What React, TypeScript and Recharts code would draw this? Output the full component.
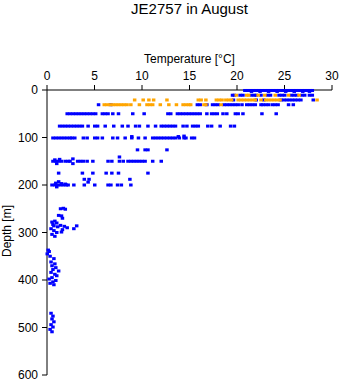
import React from 'react'
import { ScatterChart, Scatter, XAxis, YAxis } from 'recharts'

// temperature ticks and depth ticks
const tempTicks = [0, 5, 10, 15, 20, 25, 30]
const depthTicks = [0, 100, 200, 300, 400, 500, 600]

// rows of casts sampled at (roughly) the same depth: temperatures in °C
const blue1m = [20.8, 21.1, 21.4, 21.7, 22.0, 22.3, 22.6, 22.9, 23.2, 23.5, 23.8, 24.1, 24.4, 24.7, 25.0, 25.3, 25.6, 25.9, 26.2, 26.5, 26.8, 27.1, 27.4, 27.7, 27.9]
const blue3m = [21.5, 22.4, 23.3, 24.2, 25.1, 26.0, 26.9, 27.6]
const blue11m = [19.5, 19.7, 20.3, 20.6, 21.5, 21.8, 22.0, 22.5, 23.2, 23.5, 24.4, 24.7, 25.0, 25.7, 26.0, 26.3, 26.8, 27.1, 27.6, 27.9]
const orange11m = [19.9, 21.0, 21.2, 22.2, 22.9, 24.0, 25.4, 26.5]
const orange21m = [9.2, 10.1, 10.7, 11.2, 12.6, 15.9, 16.2, 16.7, 17.8, 18.1, 18.4, 18.8, 19.1, 19.4, 20.1, 20.4, 20.7, 21.0, 21.3, 21.6, 21.9, 22.5, 23.0, 23.3, 23.6, 23.9, 24.2, 24.5, 28.4]
const blue21m = [19.6, 22.0, 22.8, 24.6, 24.9, 25.2, 25.5, 25.8, 26.1, 26.4, 26.7, 28.0]
const orange31m = [6.0, 6.3, 6.6, 6.9, 7.2, 7.5, 7.8, 8.1, 8.4, 8.8, 9.7, 10.5, 10.8, 11.1, 11.9, 12.8, 13.6, 14.3, 14.6, 14.9, 15.1, 16.5, 16.7, 18.3]
const blue31m = [5.4, 6.7, 15.8, 16.1, 16.8, 17.4, 17.7, 18.0, 18.6, 18.9, 19.2, 19.5, 19.8, 20.1, 20.5, 21.0, 21.3, 21.6, 21.9, 22.5, 22.7, 23.0, 23.3, 23.7, 24.0, 24.3, 25.4, 25.9]
const blue50m = [2.1, 2.4, 2.7, 3.0, 3.3, 3.6, 3.9, 4.2, 4.5, 4.8, 5.1, 5.8, 6.1, 6.4, 6.9, 7.5, 9.0, 10.2, 12.7, 13.0, 13.7, 14.0, 14.3, 14.6, 14.9, 15.2, 15.5, 15.8, 16.1, 16.8, 17.3, 17.6, 17.9, 18.5, 18.9, 19.8, 20.1, 20.6, 22.6, 24.1]
const blue76m = [1.3, 1.6, 1.9, 2.2, 2.5, 2.8, 3.1, 3.4, 3.7, 4.3, 5.0, 5.3, 6.1, 7.0, 7.9, 8.5, 9.3, 9.7, 10.6, 11.4, 12.0, 12.3, 12.6, 12.9, 13.2, 13.5, 14.3, 14.7, 15.3, 15.6, 15.9, 16.9, 17.3, 18.2, 19.3, 19.7]
const blue101m = [0.6, 0.9, 1.2, 1.5, 1.8, 2.1, 2.4, 2.6, 2.9, 3.8, 4.2, 5.0, 5.3, 5.8, 6.9, 7.4, 8.2, 8.9, 9.6, 10.3, 11.1, 11.4, 11.7, 12.0, 12.3, 12.6, 12.9, 13.2, 13.5, 13.9, 14.4, 14.6, 15.2, 15.5]
const blue126m = [9.5, 10.3, 10.6, 12.6]
const blue150m = [0.6, 0.9, 1.2, 1.5, 1.9, 2.2, 2.4, 3.2, 3.5, 3.8, 4.2, 4.8, 6.4, 6.8, 7.6, 8.0, 8.5, 8.8, 9.1, 9.4, 9.7, 10.0, 10.3, 11.1, 12.0]
const blue175m = [1.2, 3.7, 4.8, 6.2, 6.8, 7.5, 10.6]
const blue200m = [0.5, 0.8, 1.1, 1.4, 1.7, 2.0, 2.2, 2.8, 3.9, 5.0, 6.4, 6.7, 7.4, 7.8, 8.8]

// scattered single samples: [temperature, depth]
const blueOther: [number, number][] = [
  [14.4, 97], [8.9, 98], [13.8, 98], [7.6, 141], [2.7, 155], [1.0, 155], [0.8, 147], [1.3, 146], [2.7, 145],
  [3.9, 188], [4.4, 188], [8.7, 188], [4.3, 194], [1.0, 204], [0.9, 196], [1.5, 197], [1.9, 198], [1.2, 193],
]
const blueDeep: [number, number][] = [
  [1.4, 250], [1.7, 249], [1.9, 251], [1.2, 264], [1.5, 265], [1.6, 270],
  [0.5, 278], [0.8, 276], [1.0, 280], [0.6, 283], [0.7, 286], [1.1, 288], [1.4, 285], [1.8, 287], [2.1, 290],
  [1.6, 294], [2.8, 292], [3.1, 286], [0.4, 292], [0.7, 296], [1.0, 300], [0.5, 304], [0.8, 308], [1.5, 299],
  [0.1, 337], [0.2, 340], [0.0, 345], [0.3, 350], [0.7, 355], [0.4, 362], [0.8, 366], [0.5, 370],
  [0.9, 374], [0.6, 378], [1.2, 381], [0.4, 384], [0.8, 388], [1.0, 391], [0.5, 395], [0.2, 398],
  [0.9, 401], [0.6, 404], [0.3, 407], [0.7, 410],
  [0.4, 470], [0.6, 476], [0.5, 482], [0.7, 488], [0.4, 494], [0.6, 499], [0.3, 504], [0.5, 509],
]

const row = (depth: number, temps: number[]) => temps.map((t) => ({ t, d: depth }))
const pairs = (list: [number, number][]) => list.map(([t, d]) => ({ t, d }))

const blueData = [
  ...row(1, blue1m), ...row(3, blue3m), ...row(11, blue11m), ...row(21, blue21m), ...row(31, blue31m),
  ...row(50, blue50m), ...row(76, blue76m), ...row(101, blue101m), ...row(126, blue126m), ...row(150, blue150m),
  ...row(175, blue175m), ...row(200, blue200m), ...pairs(blueOther), ...pairs(blueDeep),
]
const orangeData = [...row(11, orange11m), ...row(21, orange21m), ...row(31, orange31m)]

const font = '"Liberation Sans", Arial, sans-serif'

const dot = (color: string) => (p: any) => (
  <rect x={p.cx - 1.5} y={p.cy - 1.5} width={3.5} height={3} fill={color} />
)

export default function App() {
  return (
    <div style={{ position: 'absolute', left: 0, top: 0, width: 341, height: 384, background: '#fff', fontFamily: font }}>
      <div style={{ position: 'absolute', left: 47, top: 0, width: 285, textAlign: 'center', fontSize: 15, lineHeight: '17px' }}>
        JE2757 in August
      </div>
      <div style={{ position: 'absolute', left: 47, top: 52, width: 285, textAlign: 'center', fontSize: 12, lineHeight: '14px' }}>
        Temperature [°C]
      </div>
      <div
        style={{
          position: 'absolute', left: -43, top: 224, width: 100, textAlign: 'center', fontSize: 12,
          lineHeight: '14px', transform: 'rotate(-90deg)',
        }}
      >
        Depth [m]
      </div>
      <ScatterChart width={341} height={384} margin={{ top: 0, right: 9, bottom: 9, left: 0 }}>
        <XAxis
          type="number"
          dataKey="t"
          orientation="top"
          domain={[0, 30]}
          ticks={tempTicks}
          height={90}
          tickSize={5}
          tickMargin={5}
          axisLine={{ stroke: '#000' }}
          tickLine={{ stroke: '#000' }}
          tick={{ fill: '#000', fontSize: 12, fontFamily: font }}
        />
        <YAxis
          type="number"
          dataKey="d"
          reversed
          domain={[0, 600]}
          ticks={depthTicks}
          width={47}
          tickSize={5}
          tickMargin={4}
          axisLine={{ stroke: '#000' }}
          tickLine={{ stroke: '#000' }}
          tick={{ fill: '#000', fontSize: 12, fontFamily: font }}
        />
        <Scatter data={blueData} shape={dot('#0000ff')} isAnimationActive={false} />
        <Scatter data={orangeData} shape={dot('#ffa500')} isAnimationActive={false} />
      </ScatterChart>
    </div>
  )
}
